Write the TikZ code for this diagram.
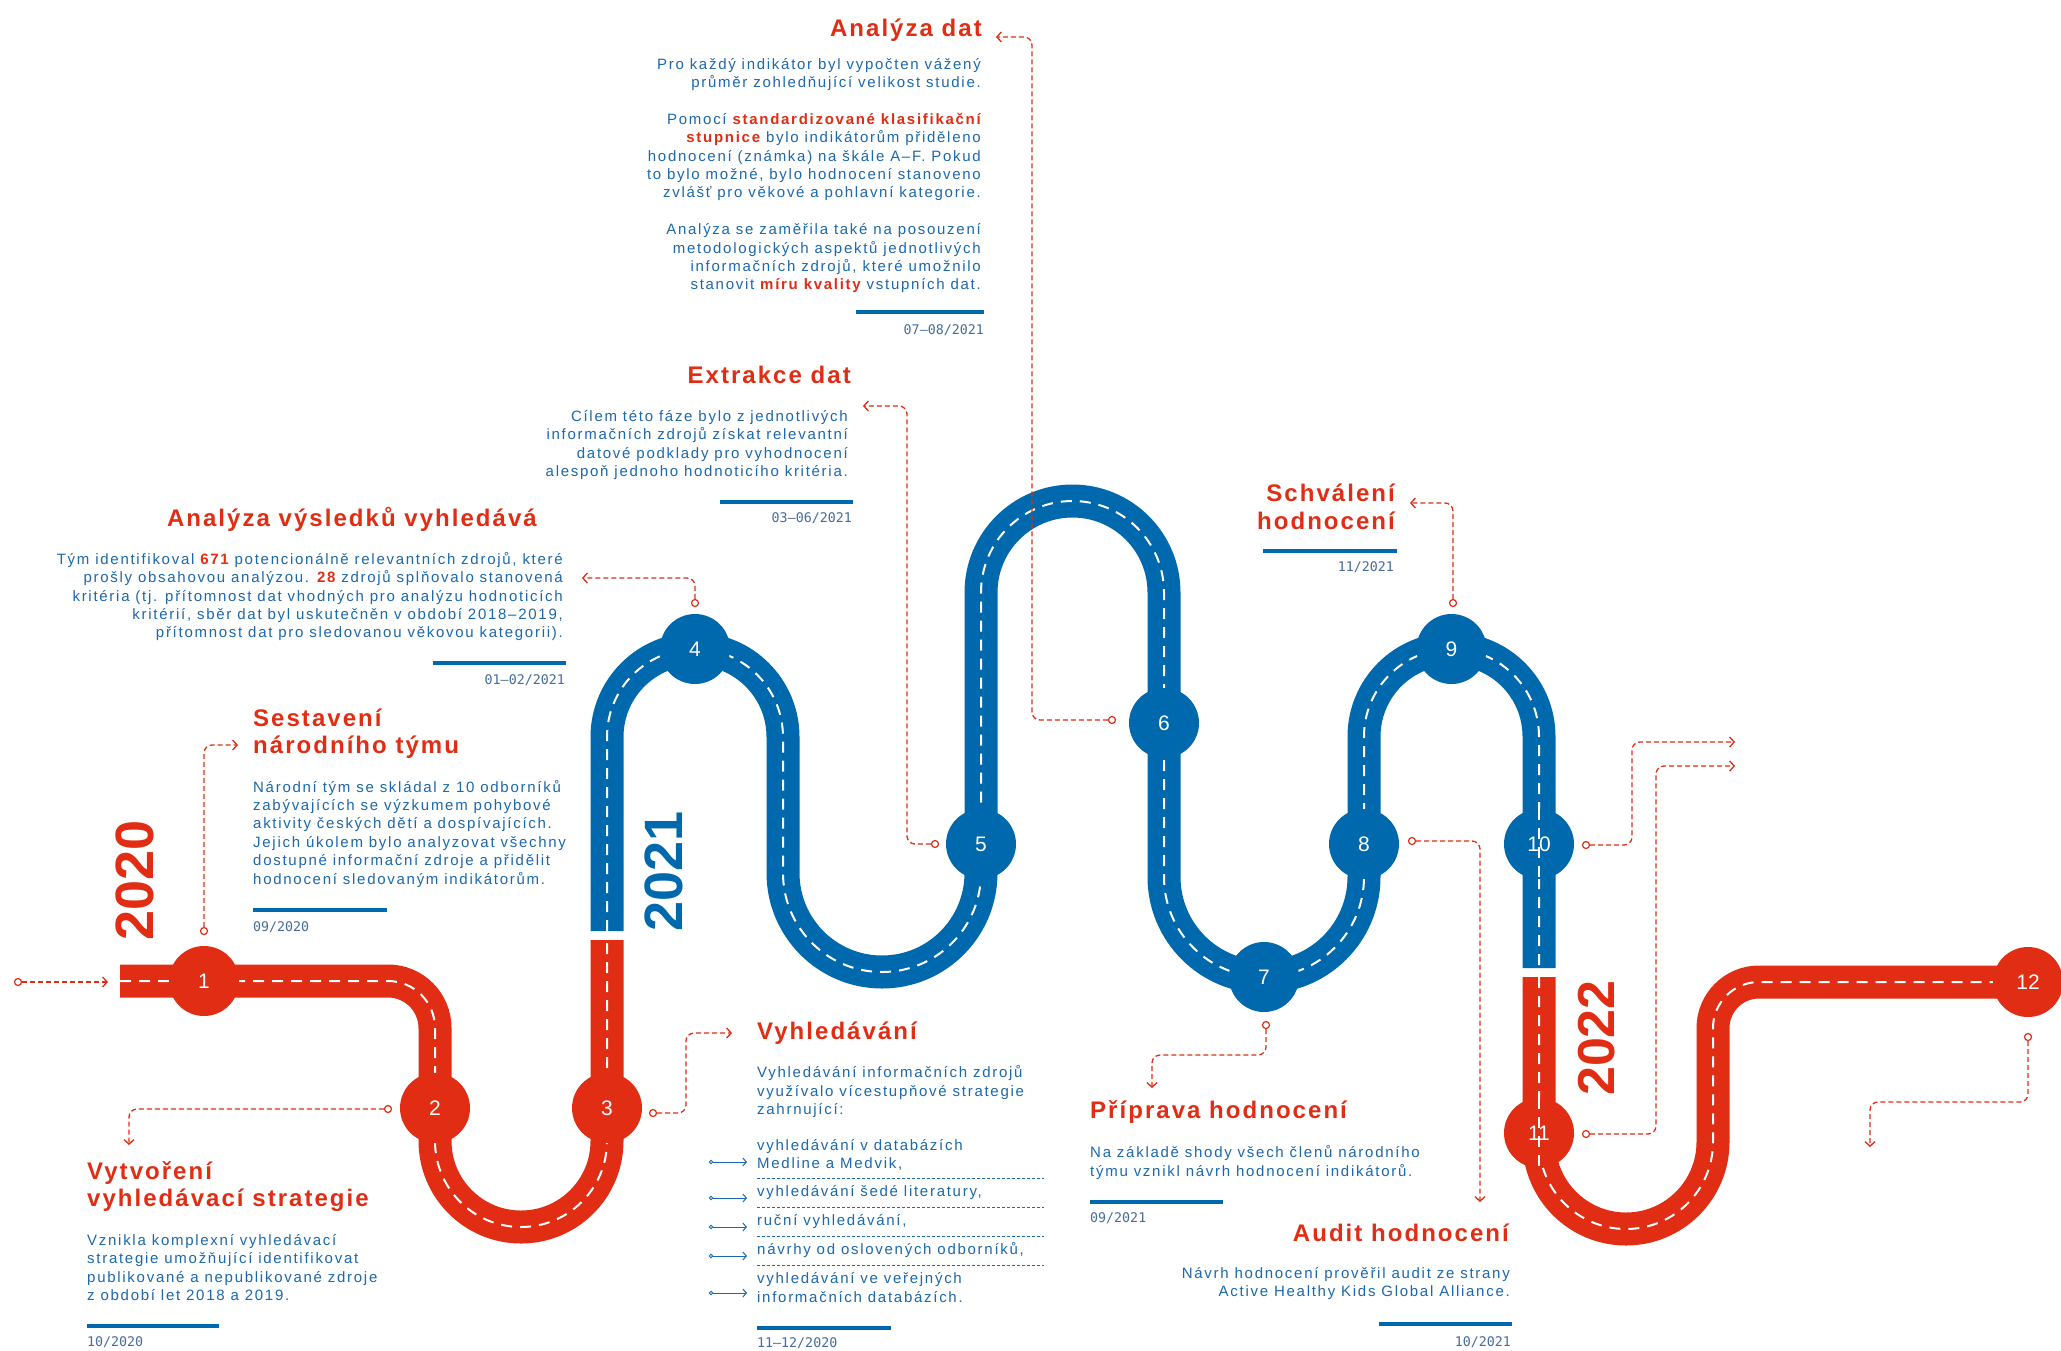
\documentclass[tikz,border=0pt]{standalone}
\usepackage{fontspec}
\setmainfont{Liberation Sans}
\newfontfamily\mybody{Liberation Sans}[LetterSpace=11.5]
\newfontfamily\myhead{Liberation Sans}[LetterSpace=8.5]
\newfontfamily\mydate{DejaVu Sans Mono}
\newfontfamily\myyear{Liberation Sans}
\usetikzlibrary{arrows.meta}

\definecolor{rred}{RGB}{224,45,20}
\definecolor{rblue}{RGB}{0,105,174}
\definecolor{tblue}{RGB}{28,104,172}
\definecolor{dgray}{RGB}{70,108,155}

\newcommand{\hot}[1]{{\bfseries\color{rred}#1}}

\tikzset{
  road/.style={line width=33pt, postaction={draw=white, line width=2pt, dash pattern=on 11pt off 8pt}},
  centerdash/.style={draw=white, line width=2pt, dash pattern=on 11pt off 8pt},
  stopnode/.style={circle, minimum size=70pt, inner sep=0pt, text=white,
    font=\myyear\fontsize{21}{21}\selectfont},
  leader/.style={draw=rred, line width=1.3pt, dash pattern=on 5pt off 3pt,
    rounded corners=8pt, -{Straight Barb[length=4.5pt,width=10pt]}},
  tailmark/.style={circle, draw=rred, fill=white, line width=1.2pt, inner sep=0pt, minimum size=7pt},
  headtext/.style={text=rred, inner sep=0pt, font=\myhead\bfseries\fontsize{24}{27.5}\selectfont},
  bodytext/.style={text=tblue, inner sep=0pt, font=\mybody\fontsize{15}{18.4}\selectfont},
  datetext/.style={text=dgray, inner sep=0pt, font=\mydate\fontsize{13.3}{14}\selectfont},
  barline/.style={draw=rblue, line width=4pt},
  sepline/.style={draw=tblue, line width=0.8pt, dash pattern=on 3pt off 2pt},
  dotmark/.style={circle, draw=tblue, fill=white, line width=0.8pt, inner sep=0pt, minimum size=3.5pt},
  listarrow/.style={draw=tblue, line width=1pt, -{Straight Barb[length=3.5pt,width=8pt]}},
  yeartext/.style={rotate=90, inner sep=0pt, font=\myyear\bfseries\fontsize{54}{54}\selectfont}
}

\begin{document}
\begin{tikzpicture}[x=1pt, y=-1pt]
\fill[white] (0,0) rectangle (2061,1350);
\useasboundingbox (0,0) rectangle (2061,1350);

% ---------- the road ----------
\draw[road, rred] (120,981) -- (388,981) .. controls (414,981) and (435,1002) .. (435,1028)
  -- (435,1141) .. controls (435,1188.5) and (473.5,1227) .. (521,1227)
  .. controls (568.5,1227) and (607,1188.5) .. (607,1141) -- (607,940);

\draw[road, rblue] (607,931) -- (607,737)
  .. controls (607,688.4) and (646.4,649) .. (695,649)
  .. controls (743.6,649) and (783,688.4) .. (783,737) -- (783,873)
  .. controls (783,927.7) and (827.3,972) .. (882,972)
  .. controls (936.7,972) and (981,927.7) .. (981,873) -- (981,592.5)
  .. controls (981,542) and (1022,501) .. (1072.5,501)
  .. controls (1123,501) and (1164,542) .. (1164,592.5) -- (1164,877)
  .. controls (1164,932.2) and (1208.8,977) .. (1264,977)
  .. controls (1319.2,977) and (1364,932.2) .. (1364,877) -- (1364,736.5)
  .. controls (1364,688.2) and (1403.2,649) .. (1451.5,649)
  .. controls (1499.8,649) and (1539,688.2) .. (1539,736.5) -- (1539,968);

\draw[road, rred] (1539,977) -- (1539,1142)
  .. controls (1539,1190) and (1578,1229) .. (1626,1229)
  .. controls (1674,1229) and (1713,1190) .. (1713,1142) -- (1713,1028)
  .. controls (1713,1002.6) and (1733.6,982) .. (1759,982) -- (2028,982);

% ---------- stops ----------
\node[stopnode, fill=rred]  (s1)  at (204,981)    {1};
\node[stopnode, fill=rred]  (s2)  at (435,1108)   {2};
\node[stopnode, fill=rred]  (s3)  at (607,1108)   {3};
\node[stopnode, fill=rblue] (s4)  at (695,649)    {4};
\node[stopnode, fill=rblue] (s5)  at (981,844)    {5};
\node[stopnode, fill=rblue] (s6)  at (1164,723)   {6};
\node[stopnode, fill=rblue] (s7)  at (1264,977)   {7};
\node[stopnode, fill=rblue] (s8)  at (1364,844)   {8};
\node[stopnode, fill=rblue] (s9)  at (1451.5,649) {9};
\node[stopnode, fill=rblue] (s10) at (1539,844)   {10};
\node[stopnode, fill=rred]  (s11) at (1539,1133)  {11};
\node[stopnode, fill=rred]  (s12) at (2028,982)   {12};
\draw[centerdash] (s10.north) -- (s10.south);
\draw[centerdash] (s11.north) -- (s11.south);

% ---------- years ----------
\node[yeartext, text=rred]  (y20) at (135,880)  {2020};
\node[yeartext, text=rblue] (y21) at (664,871)  {2021};
\node[yeartext, text=rred, font=\myyear\bfseries\fontsize{52}{52}\selectfont] (y22) at (1597,1038) {2022};

% ---------- leaders ----------
\node[tailmark] (c0)  at (18,982)    {};  \coordinate (t0)  at (108,982);
\node[tailmark] (c1)  at (204,931)   {};  \coordinate (t1)  at (238,745);
\node[tailmark] (c2)  at (388,1109)  {};  \coordinate (t2)  at (129,1145);
\node[tailmark] (c3)  at (653,1113)  {};  \coordinate (t3)  at (732,1033);
\node[tailmark] (c4)  at (695,603)   {};  \coordinate (t4)  at (582,578);
\node[tailmark] (c5)  at (935,844)   {};  \coordinate (t5)  at (863,406);
\node[tailmark] (c6)  at (1112,720)  {};  \coordinate (t6)  at (996,37);
\node[tailmark] (c7)  at (1266,1025) {};  \coordinate (t7)  at (1152,1088);
\node[tailmark] (c8)  at (1412,841)  {};  \coordinate (t8)  at (1480,1202);
\node[tailmark] (c9)  at (1453,603)  {};  \coordinate (t9)  at (1410,503);
\node[tailmark] (c10) at (1586,845)  {};  \coordinate (t10) at (1735,742);
\node[tailmark] (c11) at (1586,1134) {};  \coordinate (t11) at (1735,766);
\node[tailmark] (c12) at (2028,1037) {};  \coordinate (t12) at (1870,1147);

\draw[leader] (c0) -- (t0);
\draw[leader] (c1) |- (t1);
\draw[leader] (c2) -| (t2);
\draw[leader] (c3) -- ++(33,0) |- (t3);
\draw[leader] (c4) |- (t4);
\draw[leader] (c5) -- ++(-28,0) |- (t5);
\draw[leader] (c6) -- ++(-80,0) |- (t6);
\draw[leader] (c7) -- ++(0,30) -| (t7);
\draw[leader] (c8) -| (t8);
\draw[leader] (c9) |- (t9);
\draw[leader] (c10) -- ++(46,0) |- (t10);
\draw[leader] (c11) -- ++(70,0) |- (t11);
\draw[leader] (c12) -- ++(0,65) -| (t12);

% ---------- Analýza dat ----------
\node[headtext, anchor=east] (hA) at (982,30) {Analýza dat};
\node[bodytext, anchor=east, align=right] (bA) at (981,175.5) {Pro každý indikátor byl vypočten vážený\\
průměr zohledňující velikost studie.\\ ~\\
Pomocí \hot{standardizované klasifikační}\\
\hot{stupnice} bylo indikátorům přiděleno\\
hodnocení (známka) na škále A–F. Pokud\\
to bylo možné, bylo hodnocení stanoveno\\
zvlášť pro věkové a pohlavní kategorie.\\ ~\\
Analýza se zaměřila také na posouzení\\
metodologických aspektů jednotlivých\\
informačních zdrojů, které umožnilo\\
stanovit \hot{míru kvality} vstupních dat.};
\draw[barline] (856,312) -- (984,312);
\node[datetext, anchor=east] (dA) at (984,330) {07–08/2021};

% ---------- Extrakce dat ----------
\node[headtext, anchor=east] (hB) at (851,375) {Extrakce dat};
\node[bodytext, anchor=east, align=right] (bB) at (848,445) {Cílem této fáze bylo z jednotlivých\\
informačních zdrojů získat relevantní\\
datové podklady pro vyhodnocení\\
alespoň jednoho hodnoticího kritéria.};
\draw[barline] (720,502) -- (853,502);
\node[datetext, anchor=east] (dB) at (852,518) {03–06/2021};

% ---------- Analýza výsledků ----------
\node[headtext, anchor=east] (hC) at (537,519) {Analýza výsledků vyhledává};
\node[bodytext, anchor=east, align=right] (bC) at (563,596.5) {Tým identifikoval \hot{671} potencionálně relevantních zdrojů, které\\
prošly obsahovou analýzou. \hot{28} zdrojů splňovalo stanovená\\
kritéria (tj. přítomnost dat vhodných pro analýzu hodnoticích\\
kritérií, sběr dat byl uskutečněn v období 2018–2019,\\
přítomnost dat pro sledovanou věkovou kategorii).};
\draw[barline] (433,663) -- (566,663);
\node[datetext, anchor=east] (dC) at (565,680) {01–02/2021};

% ---------- Sestavení národního týmu ----------
\node[headtext, anchor=west, align=left] (hD) at (253,733.5) {Sestavení\\národního týmu};
\node[bodytext, anchor=west, align=left] (bD) at (253,833.5) {Národní tým se skládal z 10 odborníků\\
zabývajících se výzkumem pohybové\\
aktivity českých dětí a dospívajících.\\
Jejich úkolem bylo analyzovat všechny\\
dostupné informační zdroje a přidělit\\
hodnocení sledovaným indikátorům.};
\draw[barline] (253,910) -- (387,910);
\node[datetext, anchor=west] (dD) at (253,927) {09/2020};

% ---------- Schválení hodnocení ----------
\node[headtext, anchor=east, align=right] (hE) at (1395,507) {Schválení\\hodnocení};
\draw[barline] (1263,551) -- (1397,551);
\node[datetext, anchor=east] (dE) at (1394,567) {11/2021};

% ---------- Příprava hodnocení ----------
\node[headtext, anchor=west] (hF) at (1090,1112) {Příprava hodnocení};
\node[bodytext, anchor=west, align=left] (bF) at (1090,1162.5) {Na základě shody všech členů národního\\
týmu vznikl návrh hodnocení indikátorů.};
\draw[barline] (1090,1202) -- (1223,1202);
\node[datetext, anchor=west] (dF) at (1090,1218) {09/2021};

% ---------- Audit hodnocení ----------
\node[headtext, anchor=east] (hG) at (1509,1233) {Audit hodnocení};
\node[bodytext, anchor=east, align=right] (bG) at (1510,1283.5) {Návrh hodnocení prověřil audit ze strany\\
Active Healthy Kids Global Alliance.};
\draw[barline] (1379,1324) -- (1512,1324);
\node[datetext, anchor=east] (dG) at (1511,1342) {10/2021};

% ---------- Vytvoření vyhledávací strategie ----------
\node[headtext, anchor=west, align=left] (hH) at (87,1186.5) {Vytvoření\\vyhledávací strategie};
\node[bodytext, anchor=west, align=left] (bH) at (87,1267.5) {Vznikla komplexní vyhledávací\\
strategie umožňující identifikovat\\
publikované a nepublikované zdroje\\
z období let 2018 a 2019.};
\draw[barline] (87,1326) -- (219,1326);
\node[datetext, anchor=west] (dH) at (87,1342) {10/2020};

% ---------- Vyhledávání ----------
\node[headtext, anchor=west] (hI) at (757,1033) {Vyhledávání};
\node[bodytext, anchor=west, align=left] (bI) at (757,1091.5) {Vyhledávání informačních zdrojů\\
využívalo vícestupňové strategie\\
zahrnující:};
\node[bodytext, anchor=west, align=left] (i1) at (757,1155)   {vyhledávání v databázích\\Medline a Medvik,};
\node[bodytext, anchor=west]             (i2) at (757,1193)   {vyhledávání šedé literatury,};
\node[bodytext, anchor=west]             (i3) at (757,1222)   {ruční vyhledávání,};
\node[bodytext, anchor=west]             (i4) at (757,1250)   {návrhy od oslovených odborníků,};
\node[bodytext, anchor=west, align=left] (i5) at (757,1287.5) {vyhledávání ve veřejných\\informačních databázích.};
\foreach \yy in {1178,1207,1236,1265} \draw[sepline] (757,\yy) -- (1044,\yy);
\foreach \k/\yy in {1/1162,2/1198,3/1227,4/1256,5/1293} {
  \node[dotmark] (l\k) at (711,\yy) {};
  \coordinate (m\k) at (747,\yy);
  \draw[listarrow] (l\k) -- (m\k);
}
\draw[barline] (757,1328) -- (891,1328);
\node[datetext, anchor=west] (dI) at (757,1343) {11–12/2020};
\end{tikzpicture}
\end{document}
